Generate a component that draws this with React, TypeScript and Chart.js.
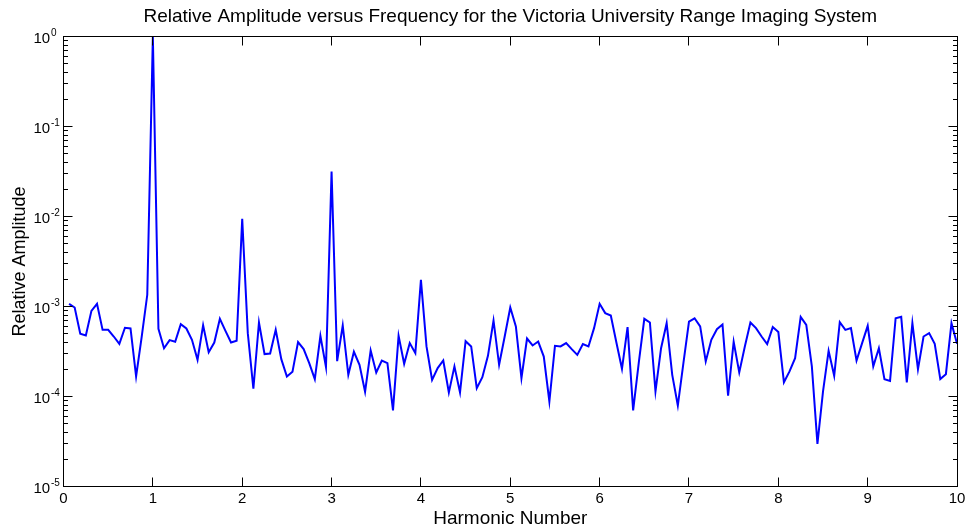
import React, { useEffect, useRef } from 'react';
import { Chart, registerables } from 'chart.js';

Chart.register(...registerables);

const FONT = '"Liberation Sans", Arial, Helvetica, sans-serif';

const titleText = 'Relative Amplitude versus Frequency for the Victoria University Range Imaging System';
const xAxisTitle = 'Harmonic Number';
const yAxisTitle = 'Relative Amplitude';
const xTickValues = [0, 1, 2, 3, 4, 5, 6, 7, 8, 9, 10];
const yTickExponents = [0, -1, -2, -3, -4, -5];
const binsPerHarmonic = 16;

// relative amplitude per frequency bin (16 bins per harmonic, first bin = 1/16)
const relativeAmplitude = [
  // 0 - 1
  1.07e-3, 9.75e-4, 4.97e-4, 4.77e-4, 8.95e-4, 1.07e-3, 5.5e-4, 5.5e-4,
  4.64e-4, 3.85e-4, 5.8e-4, 5.7e-4, 1.67e-4, 4.6e-4, 1.35e-3, 1.0,
  // 1 - 2
  5.65e-4, 3.44e-4, 4.23e-4, 4.06e-4, 6.37e-4, 5.7e-4, 4.26e-4, 2.56e-4,
  6.2e-4, 3.11e-4, 3.98e-4, 7.3e-4, 5.37e-4, 3.98e-4, 4.16e-4, 9.4e-3,
  // 2 - 3
  5.06e-4, 1.22e-4, 6.64e-4, 2.96e-4, 3.0e-4, 5.5e-4, 2.6e-4, 1.67e-4,
  1.88e-4, 4.02e-4, 3.36e-4, 2.35e-4, 1.56e-4, 4.72e-4, 2.12e-4, 3.15e-2,
  // 3 - 4
  2.47e-4, 6.15e-4, 1.74e-4, 3.14e-4, 2.25e-4, 1.13e-4, 3.24e-4, 1.85e-4,
  2.51e-4, 2.35e-4, 7.0e-5, 4.72e-4, 2.31e-4, 3.92e-4, 3.03e-4, 1.98e-3,
  // 4 - 5
  3.6e-4, 1.53e-4, 2.07e-4, 2.51e-4, 1.11e-4, 2.16e-4, 1.11e-4, 4.12e-4,
  3.6e-4, 1.24e-4, 1.64e-4, 2.83e-4, 6.99e-4, 2.25e-4, 4.64e-4, 9.75e-4,
  // 5 - 6
  6.0e-4, 1.6e-4, 4.41e-4, 3.69e-4, 4.08e-4, 2.78e-4, 8.8e-5, 3.66e-4,
  3.6e-4, 3.92e-4, 3.36e-4, 2.9e-4, 3.82e-4, 3.6e-4, 5.75e-4, 1.07e-3,
  // 6 - 7
  8.44e-4, 7.95e-4, 3.98e-4, 2.03e-4, 5.9e-4, 7.0e-5, 2.35e-4, 7.3e-4,
  6.64e-4, 1.14e-4, 3.44e-4, 6.53e-4, 1.74e-4, 7.94e-5, 2.35e-4, 6.8e-4,
  // 7 - 8
  7.4e-4, 6.0e-4, 2.45e-4, 4.26e-4, 5.6e-4, 6.3e-4, 1.02e-4, 4.06e-4,
  1.85e-4, 3.6e-4, 6.64e-4, 5.75e-4, 4.64e-4, 3.82e-4, 5.9e-4, 5.2e-4,
  // 8 - 9
  1.44e-4, 1.9e-4, 2.67e-4, 7.68e-4, 6.25e-4, 2.16e-4, 2.98e-5, 1.14e-4,
  3.22e-4, 1.7e-4, 6.7e-4, 5.5e-4, 5.75e-4, 2.51e-4, 3.92e-4, 6.1e-4,
  // 9 - 10
  2.16e-4, 3.44e-4, 1.56e-4, 1.49e-4, 7.4e-4, 7.68e-4, 1.43e-4, 6.53e-4,
  2.01e-4, 4.64e-4, 5.06e-4, 3.85e-4, 1.56e-4, 1.77e-4, 6.53e-4, 3.85e-4,
];

const harmonicNumber = relativeAmplitude.map((_, i) => (i + 1) / binsPerHarmonic);

const MAJOR_TICK = 9;
const MINOR_TICK = 4.5;

const crisp = (v: number) => Math.round(v - 0.5) + 0.5;

const matlabAxesPlugin = {
  id: 'matlabAxes',
  afterDraw(chart: any) {
    const { ctx, chartArea: a, scales } = chart;
    const xs = scales.x;
    const ys = scales.y;
    ctx.save();
    ctx.strokeStyle = '#000';
    ctx.lineWidth = 1;
    const L = crisp(a.left);
    const R = crisp(a.right);
    const T = crisp(a.top);
    const B = crisp(a.bottom);
    ctx.strokeRect(L, T, R - L, B - T);

    ctx.beginPath();
    // x ticks (bottom and top, inward)
    xTickValues.forEach((v) => {
      const px = crisp(xs.getPixelForValue(v));
      ctx.moveTo(px, B);
      ctx.lineTo(px, B - MAJOR_TICK);
      ctx.moveTo(px, T);
      ctx.lineTo(px, T + MAJOR_TICK);
    });
    // y ticks, major and minor (left and right, inward)
    yTickExponents.forEach((e) => {
      const base = Math.pow(10, e);
      const py = crisp(ys.getPixelForValue(base));
      ctx.moveTo(L, py);
      ctx.lineTo(L + MAJOR_TICK, py);
      ctx.moveTo(R, py);
      ctx.lineTo(R - MAJOR_TICK, py);
      if (e < 0) {
        for (let m = 2; m <= 9; m++) {
          const my = crisp(ys.getPixelForValue(m * base));
          ctx.moveTo(L, my);
          ctx.lineTo(L + MINOR_TICK, my);
          ctx.moveTo(R, my);
          ctx.lineTo(R - MINOR_TICK, my);
        }
      }
    });
    ctx.stroke();

    // y tick labels: 10 with superscript exponent
    ctx.fillStyle = '#000';
    ctx.textAlign = 'left';
    ctx.textBaseline = 'alphabetic';
    yTickExponents.forEach((e) => {
      const py = ys.getPixelForValue(Math.pow(10, e));
      ctx.font = `15px ${FONT}`;
      const baseX = 33.5;
      ctx.fillText('10', baseX, py + 6.6);
      const w = ctx.measureText('10').width;
      ctx.font = `10px ${FONT}`;
      ctx.fillText(String(e), baseX + w + 0.8, py - 0.7);
    });
    ctx.restore();
  },
};

export default function App() {
  const canvasRef = useRef<HTMLCanvasElement | null>(null);

  useEffect(() => {
    document.body.style.margin = '0';
    const canvas = canvasRef.current;
    if (!canvas) return;
    const chart = new Chart(canvas, {
      type: 'line',
      data: {
        datasets: [
          {
            label: yAxisTitle,
            data: relativeAmplitude.map((y, i) => ({ x: harmonicNumber[i], y })),
            borderColor: '#0000ff',
            backgroundColor: '#0000ff',
            borderWidth: 2,
            pointRadius: 0,
            tension: 0,
            fill: false,
          },
        ],
      },
      options: {
        animation: false,
        responsive: false,
        devicePixelRatio: 1,
        layout: { padding: { left: 0, right: 9.5, top: 0, bottom: 0 } },
        plugins: {
          legend: { display: false },
          tooltip: { enabled: false },
          title: {
            display: true,
            text: titleText,
            fullSize: false,
            color: '#000',
            font: { family: FONT, size: 19, weight: 'normal', lineHeight: 1.2 },
            padding: { top: 5.5, bottom: 8.2 },
          },
        },
        scales: {
          x: {
            type: 'linear',
            min: 0,
            max: 10,
            afterBuildTicks: (scale: any) => {
              scale.ticks = xTickValues.map((v) => ({ value: v }));
            },
            afterFit: (scale: any) => {
              scale.height = 40.5;
            },
            ticks: {
              color: '#000',
              font: { family: FONT, size: 15, lineHeight: 1.2 },
              padding: 3.6,
              maxRotation: 0,
              autoSkip: false,
              callback: (v: any) => String(v),
            },
            grid: { display: false, drawTicks: false },
            border: { display: false },
            title: {
              display: true,
              text: xAxisTitle,
              color: '#000',
              font: { family: FONT, size: 19, lineHeight: 1.2 },
              padding: { top: 0, bottom: -2.8 },
            },
          },
          y: {
            type: 'logarithmic',
            min: 1e-5,
            max: 1,
            afterFit: (scale: any) => {
              scale.width = 63.5;
            },
            ticks: { display: false },
            grid: { display: false, drawTicks: false },
            border: { display: false },
            title: {
              display: true,
              text: yAxisTitle,
              color: '#000',
              font: { family: FONT, size: 18, lineHeight: 1.2 },
              padding: { top: 9.5, bottom: 0 },
            },
          },
        },
      },
      plugins: [matlabAxesPlugin],
    } as any);
    return () => chart.destroy();
  }, []);

  return (
    <div style={{ width: 969, height: 527, background: '#fff' }}>
      <canvas ref={canvasRef} width={969} height={527} />
    </div>
  );
}
